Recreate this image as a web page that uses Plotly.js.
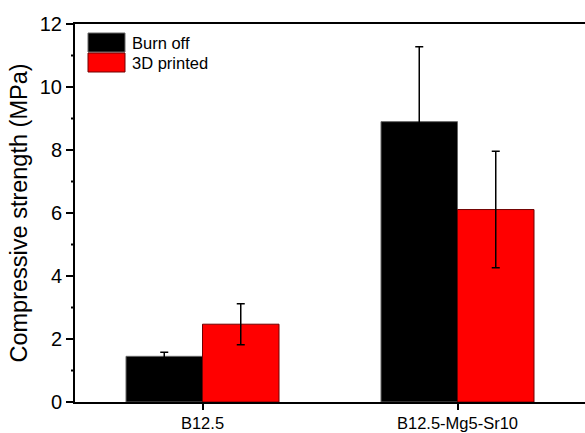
<!DOCTYPE html>
<html>
<head>
<meta charset="utf-8">
<script src="https://cdn.plot.ly/plotly-3.0.1.min.js"></script>
<style>html,body{margin:0;padding:0;background:#fff;}#chart{width:585px;height:433px;}</style>
</head>
<body>
<div id="chart"></div>
<script>
const categories = ["B12.5", "B12.5-Mg5-Sr10"];
const seriesNames = ["Burn off", "3D printed"];
const burnOff = [1.45, 8.90];
const burnOffErr = [0.13, 2.38];
const printed3D = [2.47, 6.11];
const printed3DErr = [0.65, 1.85];
const yTickVals = [0, 2, 4, 6, 8, 10, 12];
const yMinorTickVals = [1, 3, 5, 7, 9, 11];

const font = "Liberation Sans";
const colors = ["#000000", "#ff0000"];
const lineColors = ["#666666", "#700000"];

const traces = [
  {type: "bar", name: seriesNames[0], x: categories, y: burnOff,
   marker: {color: colors[0], line: {color: lineColors[0], width: 1}},
   error_y: {type: "data", array: burnOffErr, visible: true, color: "#000", thickness: 1.5, width: 4}},
  {type: "bar", name: seriesNames[1], x: categories, y: printed3D,
   marker: {color: colors[1], line: {color: lineColors[1], width: 1}},
   error_y: {type: "data", array: printed3DErr, visible: true, color: "#000", thickness: 1.5, width: 4}}
];

const shapes = [];
const annotations = [];
const boxLeft = 88, boxRight = 125, textX = 130;
const rowTop = [33, 53];
seriesNames.forEach((n, i) => {
  shapes.push({type: "rect", xref: "paper", yref: "paper",
    x0: (boxLeft - 75) / 510, x1: (boxRight - 75) / 510,
    y0: (402 - (rowTop[i] + 19)) / 378, y1: (402 - rowTop[i]) / 378,
    fillcolor: colors[i], line: {color: lineColors[i], width: 1}});
  annotations.push({xref: "paper", yref: "paper",
    x: (textX - 75) / 510, y: (402 - (rowTop[i] + 9.5)) / 378,
    xanchor: "left", yanchor: "middle", showarrow: false, text: n,
    font: {family: font, size: 16.5, color: "#000"}});
});
// minor y ticks
yMinorTickVals.forEach(v => {
  shapes.push({type: "line", xref: "paper", yref: "y", x0: -4 / 510, x1: 0, y0: v, y1: v,
    line: {color: "#000", width: 2}});
});

const layout = {
  width: 585, height: 433,
  margin: {l: 75, r: 0, t: 24, b: 31, pad: 0},
  paper_bgcolor: "#fff", plot_bgcolor: "#fff",
  showlegend: false,
  barmode: "group", bargap: 0.4, bargroupgap: 0,
  font: {family: font, color: "#000", size: 18},
  xaxis: {type: "category", range: [-0.5, 1.5], showline: true, linecolor: "#000", linewidth: 2,
    mirror: true, ticks: "outside", ticklen: 6, tickwidth: 2, tickcolor: "#000", ticklabelstandoff: -1,
    showgrid: false, zeroline: false, tickfont: {family: font, size: 16.5, color: "#000"}},
  yaxis: {range: [0, 12], tickmode: "array", tickvals: yTickVals, showline: true, linecolor: "#000", linewidth: 2,
    ticks: "outside", ticklen: 7, tickwidth: 2, tickcolor: "#000",
    showgrid: false, zeroline: false, tickfont: {family: font, size: 20, color: "#000"},
    title: {text: "Compressive strength (MPa)", font: {family: font, size: 23.5, color: "#000"}, standoff: 6}},
  shapes: shapes,
  annotations: annotations
};

Plotly.newPlot("chart", traces, layout, {displayModeBar: false, staticPlot: true});
</script>
</body>
</html>
